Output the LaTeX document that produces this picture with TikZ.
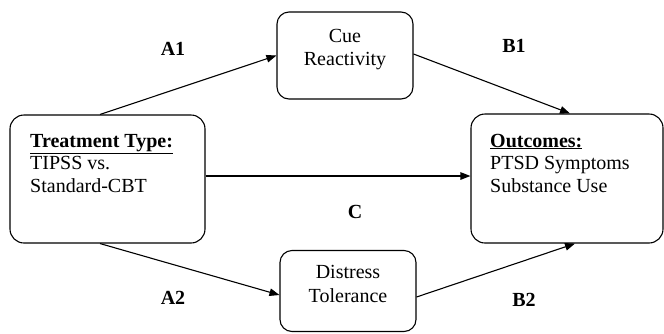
\documentclass[tikz,border=0pt]{standalone}
\usepackage{fontspec}
\setmainfont{Liberation Serif}
\usetikzlibrary{arrows.meta,calc}
\tikzset{
  box/.style={draw, line width=1.1pt, rounded corners=14pt, inner sep=0pt},
  smallbox/.style={draw, line width=1.1pt, rounded corners=12pt, inner sep=0pt},
  txt/.style={inner sep=0pt, anchor=base west, font=\fontsize{20}{22.5}\selectfont},
  ctxt/.style={inner sep=0pt, anchor=base, font=\fontsize{20}{22.5}\selectfont},
  lab/.style={inner sep=0pt, font=\fontsize{20}{22.5}\selectfont\bfseries},
  conn/.style={line width=1.1pt, -{Triangle[length=10pt,width=7.5pt]}}
}
\begin{document}
\begin{tikzpicture}[x=1pt,y=-1pt]
\useasboundingbox (0,0) rectangle (664,333);
% boxes
\node[box, minimum width=195pt, minimum height=128pt] (T) at (107.5,179) {};
\node[box, minimum width=192pt, minimum height=129pt] (O) at (567,178.5) {};
\node[smallbox, minimum width=136pt, minimum height=87pt] (Cue) at (345,55.5) {};
\node[smallbox, minimum width=136pt, minimum height=81pt] (Dis) at (348,291) {};
% texts
\node[txt] (Tt) at (30,147) {\parbox[t]{170pt}{\underline{\textbf{Treatment Type:}}\\TIPSS vs.\\Standard-CBT}};
\node[txt] (Ot) at (490,147) {\parbox[t]{170pt}{\underline{\textbf{Outcomes:}}\\PTSD Symptoms\\Substance Use}};
\node[ctxt] (Ct1) at (345,42) {Cue};
\node[ctxt] (Ct2) at (345,65) {Reactivity};
\node[ctxt] (Dt1) at (348,278) {Distress};
\node[ctxt] (Dt2) at (348,302) {Tolerance};
% labels
\node[lab] (A1) at (173,48.5) {A1};
\node[lab] (A2) at (173,298) {A2};
\node[lab] (B1) at (514,46) {B1};
\node[lab] (B2) at (524,299.5) {B2};
\node[lab] (C) at (355,212) {C};
% connectors
\coordinate (a1s) at ([xshift=-7.5pt]T.north);
\coordinate (a2s) at ([xshift=-7.5pt]T.south);
\coordinate (b1e) at ([xshift=3pt]O.north);
\coordinate (b2e) at ([xshift=8pt]O.south);
\coordinate (ce) at ([yshift=2.5pt]O.west);
\coordinate (cs) at (T.east |- ce);
\coordinate (a2e) at ([yshift=-4pt]Dis.west);
\coordinate (b2s) at ([yshift=-6pt]Dis.east);
\coordinate (b1s) at ([yshift=1.5pt]Cue.east);
\draw[conn] (a1s) -- (Cue.west);
\draw[conn] (a2s) -- (a2e);
\draw[conn] (b1s) -- (b1e);
\draw[conn] (b2s) -- (b2e);
\draw[conn] (cs) -- (ce);
\end{tikzpicture}
\end{document}
